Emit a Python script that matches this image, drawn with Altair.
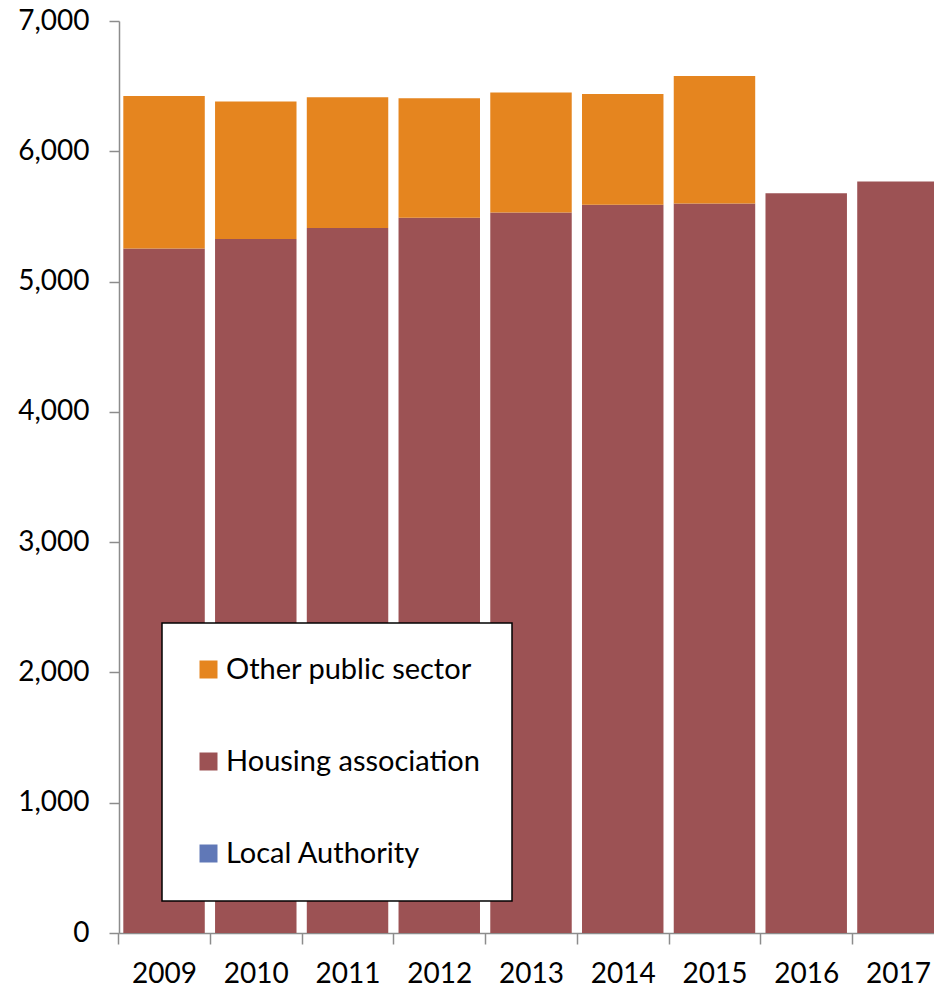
import altair as alt
import pandas as pd

years = ["2009", "2010", "2011", "2012", "2013", "2014", "2015", "2016", "2017"]
local_authority = [0, 0, 0, 0, 0, 0, 0, 0, 0]
housing_association = [5254, 5326, 5412, 5489, 5530, 5589, 5599, 5678, 5768]
other_public = [1171, 1056, 1003, 918, 921, 851, 979, 0, 0]

series = ["Other public sector", "Housing association", "Local Authority"]
colors = ["#E5851F", "#9C5254", "#6078B7"]
stack_rank = {"Local Authority": 0, "Housing association": 1, "Other public sector": 2}

rows = []
for i, y in enumerate(years):
    rows.append({"year": y, "series": "Local Authority", "value": local_authority[i]})
    rows.append({"year": y, "series": "Housing association", "value": housing_association[i]})
    rows.append({"year": y, "series": "Other public sector", "value": other_public[i]})
df = pd.DataFrame(rows)
df["rank"] = df["series"].map(stack_rank)

FONT = "Lato"

chart = alt.Chart(df).mark_bar().encode(
    x=alt.X("year:N", sort=years, title=None,
            scale=alt.Scale(range=[0, 824], paddingInner=0.112, paddingOuter=0.047),
            axis=alt.Axis(labelAngle=0, tickSize=11, tickOffset=-45.8, labelOffset=45.8,
                          labelPadding=16, domainColor="#8C8C8C", tickColor="#8C8C8C",
                          domainWidth=1.5, tickWidth=1.5,
                          labelFont=FONT, labelFontSize=28, labelColor="#000000")),
    y=alt.Y("value:Q", stack="zero", title=None,
            scale=alt.Scale(domain=[0, 7000], nice=False),
            axis=alt.Axis(values=[0, 1000, 2000, 3000, 4000, 5000, 6000, 7000], format=",.0f",
                          grid=False, tickSize=10, labelPadding=20,
                          domainColor="#8C8C8C", tickColor="#8C8C8C",
                          domainWidth=1.5, tickWidth=1.5,
                          labelFont=FONT, labelFontSize=28, labelColor="#000000")),
    color=alt.Color("series:N", scale=alt.Scale(domain=series, range=colors),
                    legend=alt.Legend(title=None, orient="none", legendX=43, legendY=602,
                                      fillColor="#FFFFFF", strokeColor="#000000",
                                      padding=32, rowPadding=62, symbolType="square",
                                      symbolSize=324, symbolStrokeWidth=0, labelOffset=3,
                                      labelFont=FONT, labelFontSize=29, labelColor="#000000",
                                      labelLimit=400)),
    order=alt.Order("rank:Q", sort="ascending"),
).properties(
    width=815,
    height=912,
    autosize=alt.AutoSizeParams(type="none"),
    padding={"left": 119, "top": 21, "right": 0, "bottom": 56},
).configure_view(stroke=None).configure_legend(strokeWidth=1.5)

chart.save("out.html", embed_options={"renderer": "svg", "actions": False})
